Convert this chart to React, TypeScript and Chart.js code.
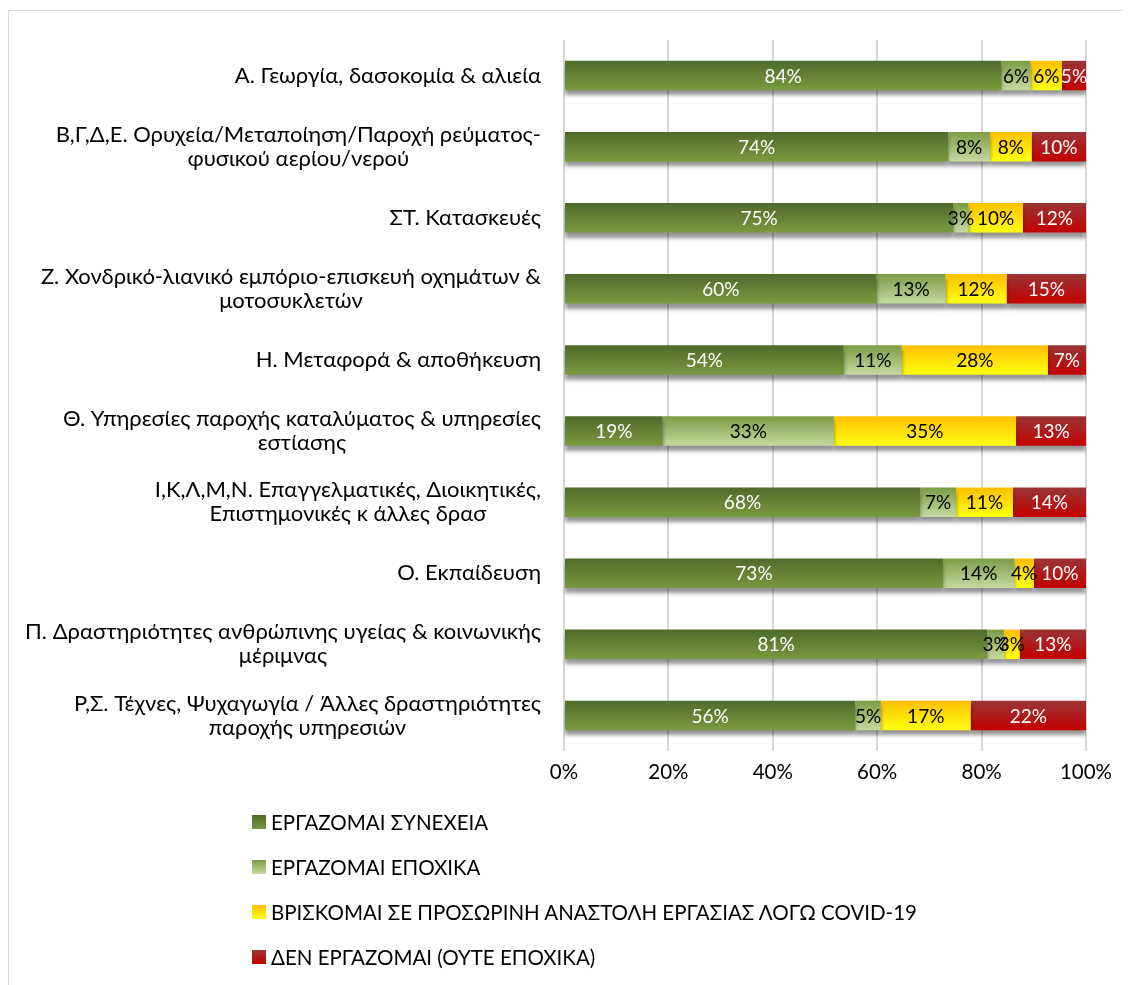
import { useEffect, useRef } from 'react';
import { Chart, registerables } from 'chart.js';

Chart.register(...registerables);

const FONT = 'Lato, "Open Sans", sans-serif';
const CAT_SIZE = 22;
const TICK_SIZE = 20.5;
const VALUE_SIZE = 19;
const LEGEND_SIZE = 20.5;

const categories: (string | string[])[] = [
  'Α. Γεωργία, δασοκομία & αλιεία',
  ['Β,Γ,Δ,Ε. Ορυχεία/Μεταποίηση/Παροχή ρεύματος-', 'φυσικού αερίου/νερού'],
  'ΣΤ. Κατασκευές',
  ['Ζ. Χονδρικό-λιανικό εμπόριο-επισκευή οχημάτων &', 'μοτοσυκλετών'],
  'Η. Μεταφορά & αποθήκευση',
  ['Θ. Υπηρεσίες παροχής καταλύματος & υπηρεσίες', 'εστίασης'],
  ['Ι,Κ,Λ,Μ,Ν. Επαγγελματικές, Διοικητικές,', 'Επιστημονικές κ άλλες δρασ'],
  'Ο. Εκπαίδευση',
  ['Π. Δραστηριότητες ανθρώπινης υγείας & κοινωνικής', 'μέριμνας'],
  ['Ρ,Σ. Τέχνες, Ψυχαγωγία / Άλλες δραστηριότητες', 'παροχής υπηρεσιών'],
];

const seriesNames = [
  'ΕΡΓΑΖΟΜΑΙ ΣΥΝΕΧΕΙΑ',
  'ΕΡΓΑΖΟΜΑΙ ΕΠΟΧΙΚΑ',
  'ΒΡΙΣΚΟΜΑΙ ΣΕ ΠΡΟΣΩΡΙΝΗ ΑΝΑΣΤΟΛΗ ΕΡΓΑΣΙΑΣ ΛΟΓΩ COVID-19',
  'ΔΕΝ ΕΡΓΑΖΟΜΑΙ (ΟΥΤΕ ΕΠΟΧΙΚΑ)',
];

const continuous = [83.8, 73.6, 74.6, 59.9, 53.6, 18.9, 68.2, 72.6, 81.1, 55.8];
const seasonal = [5.6, 8.0, 2.9, 13.2, 11.1, 32.8, 6.9, 13.7, 3.2, 4.9];
const suspended = [6.0, 8.0, 10.4, 11.7, 28.0, 34.9, 10.9, 3.7, 3.0, 17.2];
const notWorking = [4.6, 10.4, 12.1, 15.2, 7.3, 13.4, 14.0, 10.0, 12.7, 22.1];

const xTicks = [0, 20, 40, 60, 80, 100];

const gradientStops: [string, string][] = [
  ['#4f6a2c', '#7a9a3e'],
  ['#7c9c44', '#c6d9a2'],
  ['#ffbf00', '#ffff10'],
  ['#9a3535', '#c40000'],
];
const labelColors = ['#ffffff', '#000000', '#000000', '#ffffff'];

const BAR_PCT = 0.415;

function barGradient(top: string, bottom: string) {
  return (ctx: any) => {
    const chart = ctx.chart;
    const { chartArea, scales } = chart;
    if (!chartArea || !scales || !scales.y || ctx.dataIndex === undefined) return bottom;
    const y = scales.y.getPixelForValue(ctx.dataIndex);
    const half = ((chartArea.bottom - chartArea.top) / categories.length) * BAR_PCT / 2;
    const g = chart.ctx.createLinearGradient(0, y - half, 0, y + half);
    g.addColorStop(0, top);
    g.addColorStop(1, bottom);
    return g;
  };
}

const shadowPlugin = {
  id: 'barShadow',
  beforeDatasetsDraw(chart: any) {
    const ctx = chart.ctx;
    ctx.save();
    ctx.shadowColor = 'rgba(0,0,0,0.42)';
    ctx.shadowOffsetY = 5;
    ctx.shadowOffsetX = 0;
    ctx.shadowBlur = 4;
  },
  afterDatasetsDraw(chart: any) {
    chart.ctx.restore();
  },
};

const valueLabelPlugin = {
  id: 'valueLabels',
  afterDatasetsDraw(chart: any) {
    const ctx = chart.ctx;
    ctx.save();
    ctx.font = `${VALUE_SIZE}px ${FONT}`;
    ctx.textAlign = 'center';
    ctx.textBaseline = 'middle';
    chart.data.datasets.forEach((ds: any, di: number) => {
      const meta = chart.getDatasetMeta(di);
      ctx.fillStyle = labelColors[di];
      meta.data.forEach((bar: any, i: number) => {
        const { x, base, y } = bar.getProps(['x', 'base', 'y'], true);
        ctx.fillText(Math.round(ds.data[i]) + '%', (x + base) / 2, y + 1);
      });
    });
    ctx.restore();
  },
};

const categoryLabelPlugin = {
  id: 'categoryLabels',
  afterDraw(chart: any) {
    const ctx = chart.ctx;
    const yScale = chart.scales.y;
    const right = chart.chartArea.left - 23;
    const lineH = 24;
    ctx.save();
    ctx.font = `${CAT_SIZE}px ${FONT}`;
    ctx.fillStyle = '#000000';
    ctx.textAlign = 'center';
    ctx.textBaseline = 'middle';
    categories.forEach((lab, i) => {
      const lines = Array.isArray(lab) ? lab : [lab];
      const w = Math.max(...lines.map((l) => ctx.measureText(l).width));
      const cx = right - w / 2;
      const yc = yScale.getPixelForValue(i);
      lines.forEach((l, j) => {
        ctx.fillText(l, cx, yc + (j - (lines.length - 1) / 2) * lineH);
      });
    });
    ctx.restore();
  },
};

const seriesData = [continuous, seasonal, suspended, notWorking];

export default function App() {
  const canvasRef = useRef<HTMLCanvasElement | null>(null);

  useEffect(() => {
    if (!canvasRef.current) return;
    const chart = new Chart(canvasRef.current, {
      type: 'bar',
      data: {
        labels: categories.map((c) => (Array.isArray(c) ? c.join(' ') : c)),
        datasets: seriesNames.map((name, i) => ({
          label: name,
          data: seriesData[i],
          backgroundColor: barGradient(gradientStops[i][0], gradientStops[i][1]),
          borderWidth: 0,
          barPercentage: BAR_PCT,
          categoryPercentage: 1,
        })),
      },
      options: {
        indexAxis: 'y',
        responsive: false,
        animation: false,
        layout: { padding: { top: 29, left: 0, right: 45, bottom: 0 } },
        plugins: {
          legend: { display: false },
          tooltip: { enabled: false },
          title: { display: false },
        },
        scales: {
          x: {
            stacked: true,
            min: 0,
            max: 100,
            afterBuildTicks: (scale: any) => {
              scale.ticks = xTicks.map((v) => ({ value: v }));
            },
            afterFit: (scale: any) => {
              scale.height = 50;
            },
            ticks: {
              callback: (v: any) => v + '%',
              font: { family: FONT, size: TICK_SIZE },
              color: '#000000',
              padding: 9,
            },
            grid: { color: '#d6d6d6', lineWidth: 2, drawTicks: false },
            border: { display: false },
          },
          y: {
            stacked: true,
            afterFit: (scale: any) => {
              scale.width = 555;
            },
            ticks: { display: false },
            grid: { display: false },
            border: { display: false },
          },
        },
      },
      plugins: [shadowPlugin, valueLabelPlugin, categoryLabelPlugin],
    } as any);
    return () => chart.destroy();
  }, []);

  return (
    <div
      style={{
        marginTop: 2,
        width: 1123,
        height: 975,
        boxSizing: 'border-box',
        borderTop: '1px solid #d9d9d9',
        borderLeft: '1px solid #d9d9d9',
        position: 'relative',
        fontFamily: FONT,
      }}
    >
      <canvas ref={canvasRef} width={1122} height={790} style={{ display: 'block' }} />
      <div style={{ position: 'absolute', left: 243, top: 788 }}>
        {seriesNames.map((name, i) => (
          <div
            key={name}
            style={{ height: 45, display: 'flex', alignItems: 'center', fontSize: LEGEND_SIZE, color: '#000' }}
          >
            <span
              style={{
                display: 'inline-block',
                width: 14,
                height: 14,
                marginRight: 5,
                background: `linear-gradient(to bottom, ${gradientStops[i][0]}, ${gradientStops[i][1]})`,
              }}
            />
            <span>{name}</span>
          </div>
        ))}
      </div>
    </div>
  );
}
